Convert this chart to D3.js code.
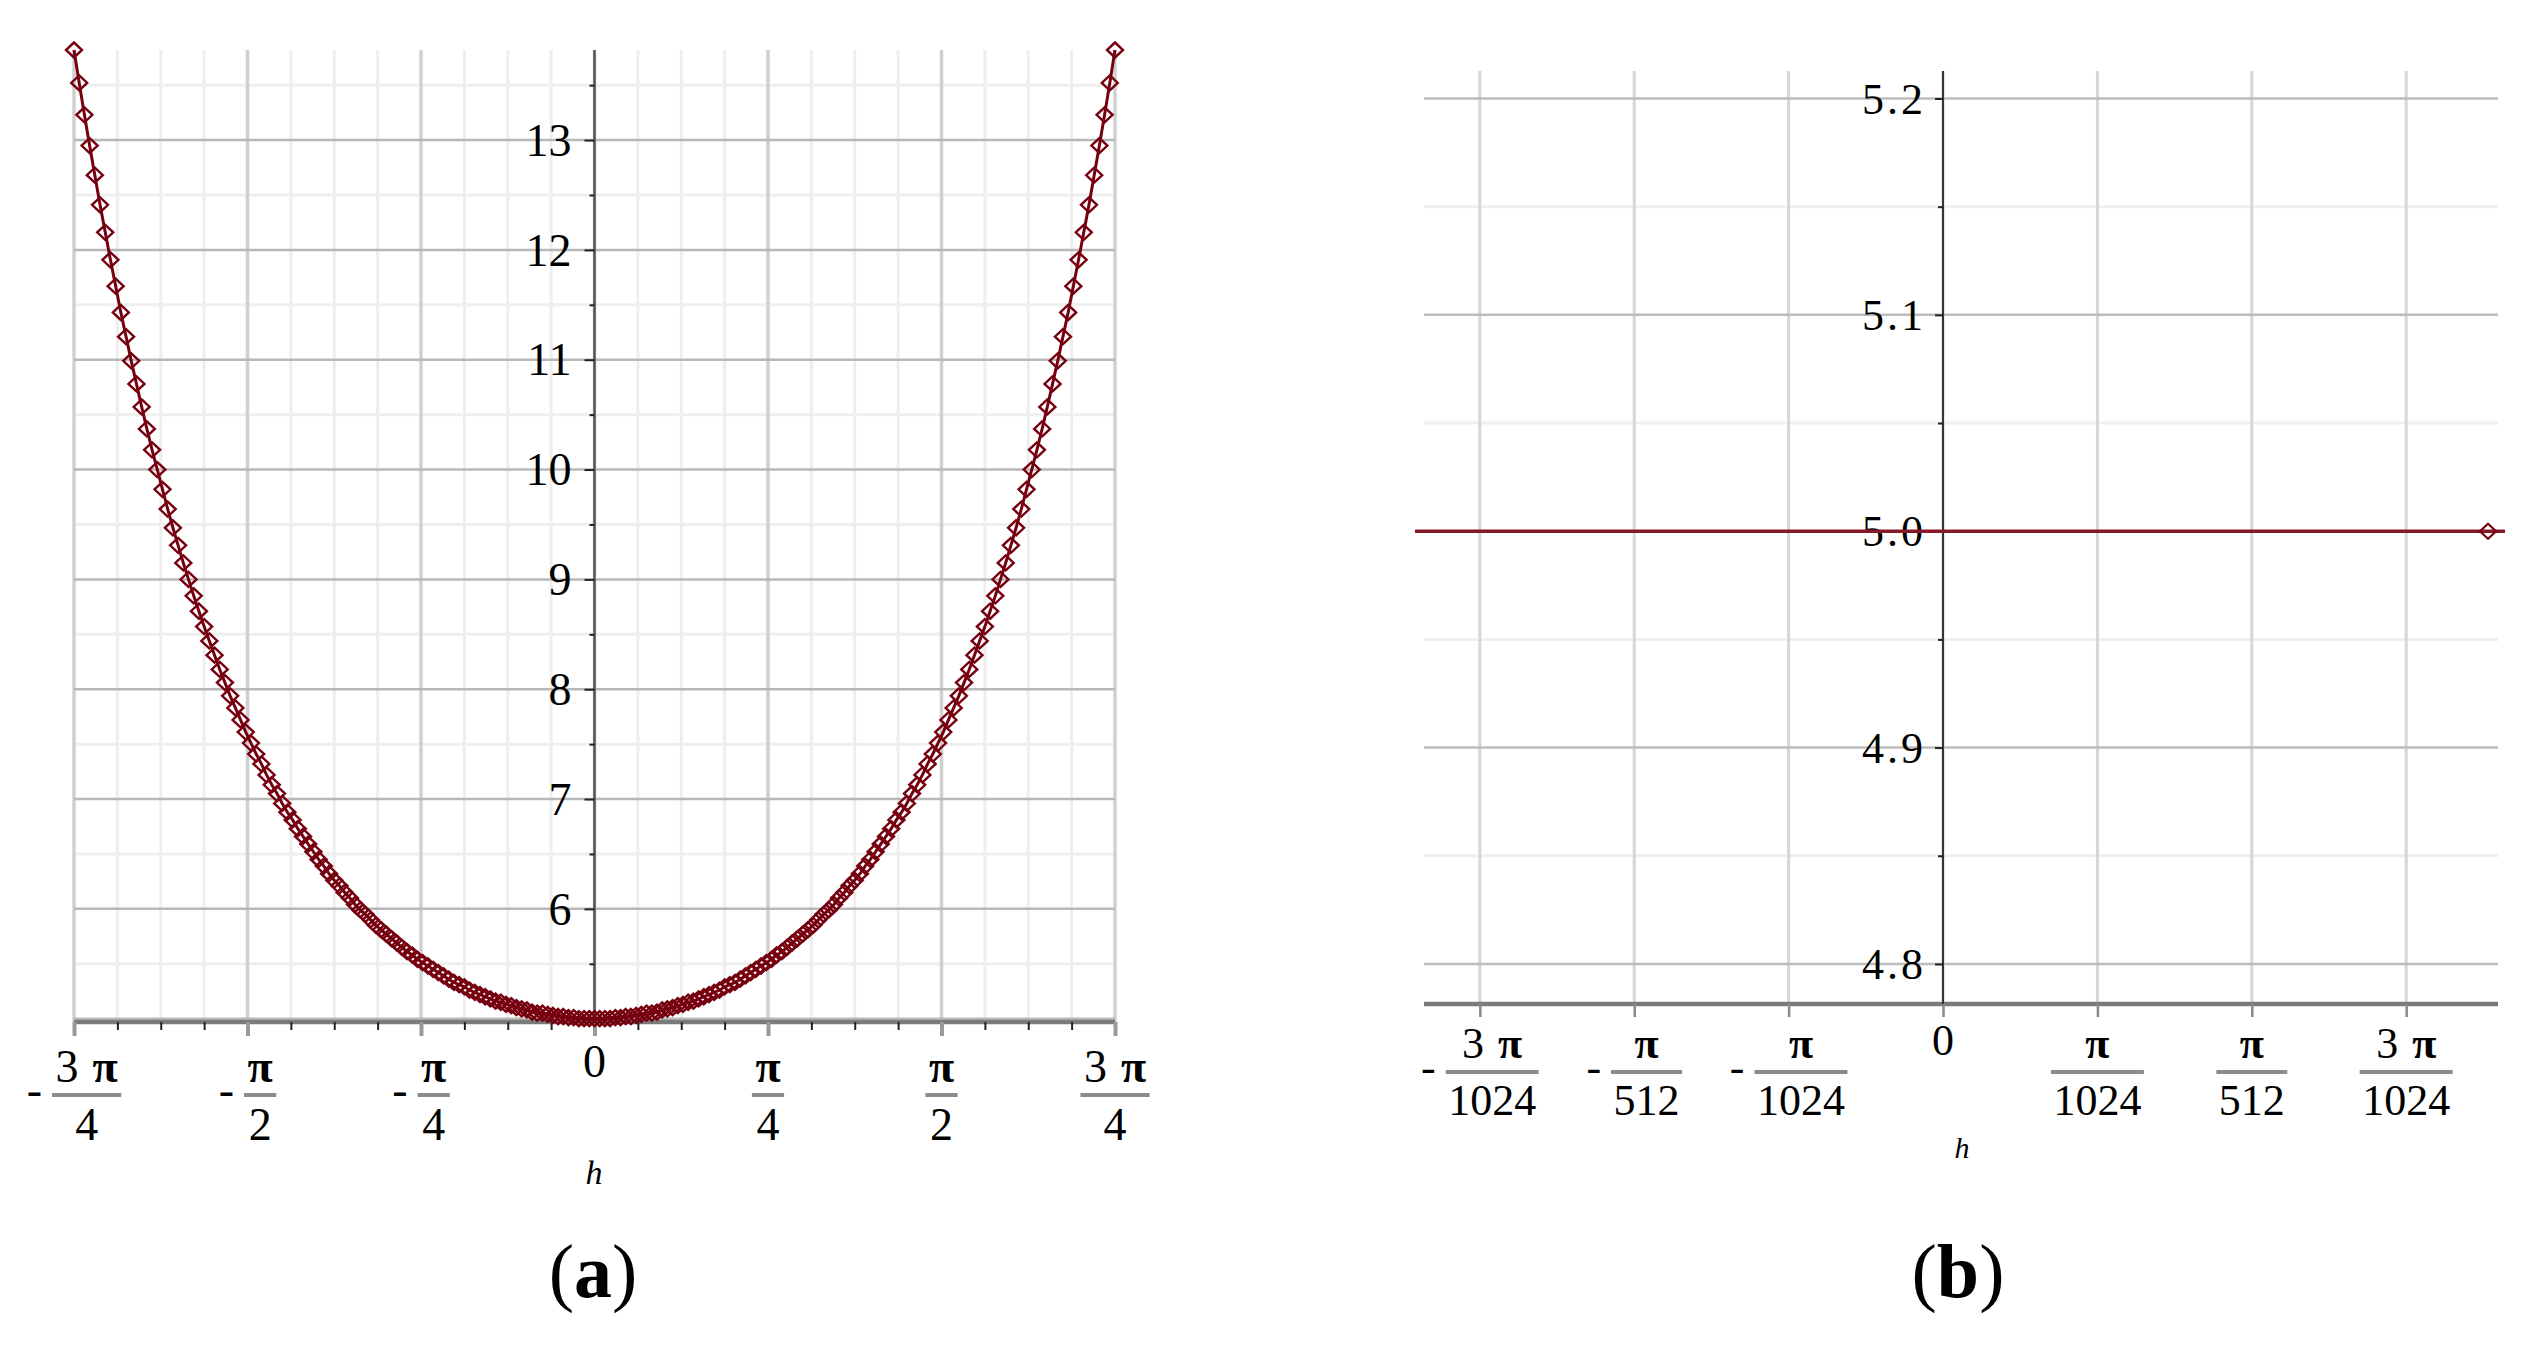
<!DOCTYPE html>
<html><head><meta charset="utf-8">
<script src="https://cdn.jsdelivr.net/npm/d3@7"></script>
<style>body{margin:0;background:#fff} svg{display:block;background:#fff}</style>
</head><body>
<svg id="fig" width="2531" height="1348"></svg>
<script>
// ---------------- DATA ----------------
const aValues = [
13.82,13.52,13.23,12.95,12.68,12.41,12.16,11.91,11.67,11.43,
11.21,10.99,10.78,10.57,10.37,10.18,10.00,9.82,9.64,9.47,
9.31,9.15,9.00,8.85,8.71,8.57,8.44,8.31,8.18,8.06,
7.94,7.83,7.72,7.61,7.51,7.41,7.32,7.22,7.13,7.05,
6.96,6.88,6.81,6.73,6.66,6.59,6.52,6.45,6.39,6.32,
6.26,6.21,6.15,6.10,6.04,5.99,5.95,5.90,5.85,5.81,
5.77,5.73,5.69,5.65,5.61,5.58,5.54,5.51,5.48,5.45,
5.42,5.39,5.36,5.33,5.31,5.29,5.26,5.24,5.22,5.20,
5.18,5.16,5.15,5.13,5.12,5.10,5.09,5.08,5.06,5.05,
5.05,5.04,5.03,5.02,5.02,5.01,5.01,5.00,5.00,5.00,
5.00,
5.00,5.00,5.00,5.01,5.01,5.02,5.02,5.03,5.04,5.05,
5.05,5.06,5.08,5.09,5.10,5.12,5.13,5.15,5.16,5.18,
5.20,5.22,5.24,5.26,5.29,5.31,5.33,5.36,5.39,5.42,
5.45,5.48,5.51,5.54,5.58,5.61,5.65,5.69,5.73,5.77,
5.81,5.85,5.90,5.95,5.99,6.04,6.10,6.15,6.21,6.26,
6.32,6.39,6.45,6.52,6.59,6.66,6.73,6.81,6.88,6.96,
7.05,7.13,7.22,7.32,7.41,7.51,7.61,7.72,7.83,7.94,
8.06,8.18,8.31,8.44,8.57,8.71,8.85,9.00,9.15,9.31,
9.47,9.64,9.82,10.00,10.18,10.37,10.57,10.78,10.99,11.21,
11.43,11.67,11.91,12.16,12.41,12.68,12.95,13.23,13.52,13.82
];
const aHRange = [-3 * Math.PI / 4, 3 * Math.PI / 4];
const aXTickMultiples = [-3, -2, -1, 0, 1, 2, 3];          // × π/4
const aXTickLabels = [["-","3 π","4"],["-","π","2"],["-","π","4"],["","0",""],["","π","4"],["","π","2"],["","3 π","4"]];
const aYTicks = [6, 7, 8, 9, 10, 11, 12, 13];

// Panel (b): nearly constant series (units of π/1024 for h)
const bHUnits = [-4.6, 3.53, 4.6];
const bValues = [5.0, 5.0, 5.0];
const bXTickMultiples = [-3, -2, -1, 0, 1, 2, 3];          // × π/1024
const bXTickLabels = [["-","3 π","1024"],["-","π","512"],["-","π","1024"],["","0",""],["","π","1024"],["","π","512"],["","3 π","1024"]];
const bYTicks = [4.8, 4.9, 5.0, 5.1, 5.2];
const bYTickLabels = ["4.8", "4.9", "5.0", "5.1", "5.2"];

const axisLabel = "h";
const panelLabels = ["a", "b"];

// ---------------- DRAW ----------------
const svg = d3.select('#fig');
const FONT = '"Liberation Serif", "Times New Roman", serif';
const RED = '#76000f';
const diamond = 'M0,-7.5 L8,0 L0,7.5 L-8,0 Z';

function styleAxis(sel, color, width) {
  sel.select('.domain').remove();
  sel.selectAll('.tick line').attr('stroke', color).attr('stroke-width', width);
}

function fracLabel(g, cx, lab, o) {
  const [sign, num, den] = lab;
  const grp = g.append('g').attr('font-family', FONT).attr('font-size', o.fs).attr('fill', '#000');
  if (!den) {
    grp.append('text').attr('x', cx).attr('y', o.zeroBase).attr('text-anchor', 'middle').text(num);
    return;
  }
  const numT = grp.append('text').attr('y', o.numBase).attr('text-anchor', 'middle');
  num.split(' ').forEach((p, i) => {
    numT.append('tspan').attr('dx', i ? o.gap : 0).attr('font-weight', p === 'π' ? 'bold' : 'normal').text(p);
  });
  const denT = grp.append('text').attr('y', o.denBase).attr('text-anchor', 'middle').text(den);
  numT.attr('x', 0); denT.attr('x', 0);
  const nw = numT.node().getBBox().width;
  const dw = denT.node().getBBox().width;
  const barW = Math.max(nw, dw) + o.pad;
  let mw = 0, minusT = null;
  if (sign) {
    minusT = grp.append('text').attr('y', o.minusBase).attr('x', 0).text(sign);
    mw = minusT.node().getBBox().width;
  }
  const total = sign ? mw + o.mgap + barW : barW;
  const left = cx - total / 2;
  const bx = left + (sign ? mw + o.mgap : 0);
  if (minusT) minusT.attr('x', left);
  grp.append('line').attr('x1', bx).attr('x2', bx + barW).attr('y1', o.barY).attr('y2', o.barY)
    .attr('stroke', '#8c8c8c').attr('stroke-width', 4);
  numT.attr('x', bx + barW / 2);
  denT.attr('x', bx + barW / 2);
}

// ===== Panel (a) =====
const xA = d3.scaleLinear().domain(aHRange).range([74, 1115]);
const yA = d3.scaleLinear().domain([4.97, 13.82]).range([1022, 50]);
const gA = svg.append('g');
const aMajorX = aXTickMultiples.map(k => k * Math.PI / 4);
const aMinorX = d3.range(-11, 12).filter(k => k % 4 !== 0).map(k => k * Math.PI / 16);
const aMajorY = d3.range(5, 14);
const aMinorY = d3.range(5.5, 14, 1);

gA.selectAll('.vmin').data(aMinorX).join('line')
  .attr('x1', d => xA(d)).attr('x2', d => xA(d)).attr('y1', 50).attr('y2', 1022)
  .attr('stroke', '#eeeeee').attr('stroke-width', 3);
gA.selectAll('.hmin').data(aMinorY).join('line')
  .attr('x1', 74).attr('x2', 1115).attr('y1', d => yA(d)).attr('y2', d => yA(d))
  .attr('stroke', '#efefef').attr('stroke-width', 3);
gA.selectAll('.vmaj').data(aMajorX).join('line')
  .attr('x1', d => xA(d)).attr('x2', d => xA(d)).attr('y1', 50).attr('y2', 1022)
  .attr('stroke', '#d0d0d0').attr('stroke-width', 3.5);
gA.selectAll('.hmaj').data(aMajorY).join('line')
  .attr('x1', 74).attr('x2', 1115).attr('y1', d => yA(d)).attr('y2', d => yA(d))
  .attr('stroke', '#b8b8b8').attr('stroke-width', 2.5);

// x axis
gA.append('line').attr('x1', 74).attr('x2', 1115).attr('y1', 1022).attr('y2', 1022)
  .attr('stroke', '#7b7b7b').attr('stroke-width', 4.5);
gA.append('g').attr('transform', 'translate(0,1022)')
  .call(d3.axisBottom(xA).tickValues(aMinorX).tickSize(8).tickFormat(''))
  .call(s => styleAxis(s, '#222', 2));
gA.append('g').attr('transform', 'translate(0,1022)')
  .call(d3.axisBottom(xA).tickValues(aMajorX).tickSize(14).tickFormat(''))
  .call(s => styleAxis(s, '#999', 4));

// y axis
gA.append('line').attr('x1', xA(0)).attr('x2', xA(0)).attr('y1', 50).attr('y2', 1022)
  .attr('stroke', '#555').attr('stroke-width', 2.5);
gA.append('g').attr('transform', `translate(${xA(0)},0)`)
  .call(d3.axisLeft(yA).tickValues(aMinorY).tickSize(5).tickFormat(''))
  .call(s => styleAxis(s, '#222', 2));
const yAxA = gA.append('g').attr('transform', `translate(${xA(0)},0)`)
  .call(d3.axisLeft(yA).tickValues(aYTicks).tickSize(10).tickPadding(13).tickFormat(d3.format('d')))
  .call(s => styleAxis(s, '#222', 2));
yAxA.selectAll('text').attr('font-family', FONT).attr('font-size', 46).attr('fill', '#000').attr('dy', '0.33em');

// curve
const aPts = aValues.map((v, i) => [aHRange[0] + i * (aHRange[1] - aHRange[0]) / (aValues.length - 1), v]);
gA.append('path').datum(aPts)
  .attr('d', d3.line().x(d => xA(d[0])).y(d => yA(d[1])))
  .attr('fill', 'none').attr('stroke', RED).attr('stroke-width', 3);
gA.selectAll('.mk').data(aPts).join('path')
  .attr('transform', d => `translate(${xA(d[0])},${yA(d[1])})`)
  .attr('d', diamond).attr('fill', 'none').attr('stroke', RED).attr('stroke-width', 2.4);

// x tick labels
const optA = {fs: 46, numBase: 1082, barY: 1095, denBase: 1140, zeroBase: 1077, minusBase: 1105, gap: 14, pad: 7, mgap: 10};
aMajorX.forEach((h, i) => fracLabel(gA, xA(h), aXTickLabels[i], optA));

gA.append('text').attr('x', 594).attr('y', 1184).attr('text-anchor', 'middle')
  .attr('font-family', FONT).attr('font-style', 'italic').attr('font-size', 34).text(axisLabel);

// ===== Panel (b) =====
const U = Math.PI / 1024;
const xB = d3.scaleLinear().domain([-3.42 * U, 3.64 * U]).range([1415, 2505]);
const yB = d3.scaleLinear().domain([4.7815, 5.2127]).range([1004, 71]);
const gB = svg.append('g');
const bMajorX = bXTickMultiples.map(k => k * U);
const bMinorY = [4.85, 4.95, 5.05, 5.15];

gB.selectAll('.hmin').data(bMinorY).join('line')
  .attr('x1', 1424).attr('x2', 2498).attr('y1', d => yB(d)).attr('y2', d => yB(d))
  .attr('stroke', '#efefef').attr('stroke-width', 3);
gB.selectAll('.vmaj').data(bMajorX).join('line')
  .attr('x1', d => xB(d)).attr('x2', d => xB(d)).attr('y1', 71).attr('y2', 1004)
  .attr('stroke', '#d6d6d6').attr('stroke-width', 3);
gB.selectAll('.hmaj').data(bYTicks).join('line')
  .attr('x1', 1424).attr('x2', 2498).attr('y1', d => yB(d)).attr('y2', d => yB(d))
  .attr('stroke', '#bcbcbc').attr('stroke-width', 2.5);

gB.append('line').attr('x1', 1424).attr('x2', 2498).attr('y1', 1004).attr('y2', 1004)
  .attr('stroke', '#7b7b7b').attr('stroke-width', 4.5);
gB.append('g').attr('transform', 'translate(0,1004)')
  .call(d3.axisBottom(xB).tickValues(bMajorX).tickSize(13).tickFormat(''))
  .call(s => styleAxis(s, '#8a8a8a', 2.5));

gB.append('line').attr('x1', xB(0)).attr('x2', xB(0)).attr('y1', 71).attr('y2', 1004)
  .attr('stroke', '#333').attr('stroke-width', 2);
gB.append('g').attr('transform', `translate(${xB(0)},0)`)
  .call(d3.axisLeft(yB).tickValues(bMinorY).tickSize(5).tickFormat(''))
  .call(s => styleAxis(s, '#222', 2));
const yAxB = gB.append('g').attr('transform', `translate(${xB(0)},0)`)
  .call(d3.axisLeft(yB).tickValues(bYTicks).tickSize(8).tickPadding(9).tickFormat((d, i) => bYTickLabels[i]))
  .call(s => styleAxis(s, '#222', 2));
yAxB.selectAll('text').attr('font-family', FONT).attr('font-size', 44).attr('fill', '#000')
  .attr('letter-spacing', 3).attr('dy', '0.33em');

// series (clipped to view)
svg.append('clipPath').attr('id', 'clipB').append('rect')
  .attr('x', 1415).attr('y', 60).attr('width', 1090).attr('height', 950);
const bPts = bHUnits.map((h, i) => [h * U, bValues[i]]);
const gBS = gB.append('g').attr('clip-path', 'url(#clipB)');
gBS.append('path').datum(bPts)
  .attr('d', d3.line().x(d => xB(d[0])).y(d => yB(d[1])))
  .attr('fill', 'none').attr('stroke', '#86182a').attr('stroke-width', 3.5);
gBS.selectAll('.mk').data(bPts).join('path')
  .attr('transform', d => `translate(${xB(d[0])},${yB(d[1])})`)
  .attr('d', diamond).attr('fill', 'none').attr('stroke', RED).attr('stroke-width', 2.2);

const optB = {fs: 44, numBase: 1058, barY: 1072, denBase: 1115, zeroBase: 1055, minusBase: 1082, gap: 14, pad: 5, mgap: 10};
bMajorX.forEach((h, i) => fracLabel(gB, xB(h), bXTickLabels[i], optB));

gB.append('text').attr('x', 1962).attr('y', 1158).attr('text-anchor', 'middle')
  .attr('font-family', FONT).attr('font-style', 'italic').attr('font-size', 30).text(axisLabel);

// panel labels
[[593, panelLabels[0]], [1958, panelLabels[1]]].forEach(([x, l]) => {
  const t = svg.append('text').attr('x', x).attr('y', 1297).attr('text-anchor', 'middle')
    .attr('font-family', FONT).attr('font-size', 76).attr('fill', '#000');
  t.append('tspan').text('(');
  t.append('tspan').attr('font-weight', 'bold').text(l);
  t.append('tspan').text(')');
});
</script>
</body></html>
